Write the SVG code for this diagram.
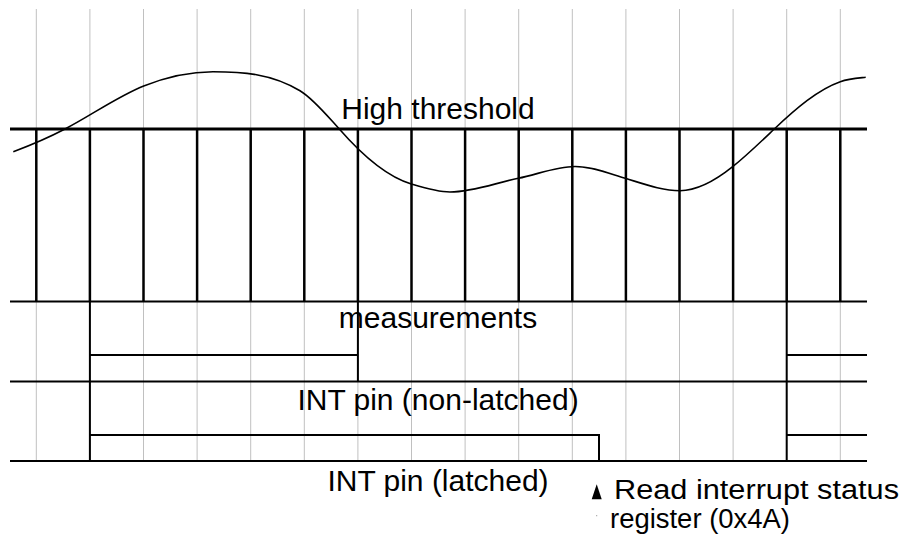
<svg xmlns="http://www.w3.org/2000/svg" width="902" height="536" viewBox="0 0 902 536">
  <style>
    .grid { stroke: #c0c0c0; stroke-width: 1; fill: none; }
    .tick { stroke: #000; stroke-width: 2.5; fill: none; }
    .thr { stroke: #000; stroke-width: 3; fill: none; }
    .rule { stroke: #000; stroke-width: 2; fill: none; }
    .wave { stroke: #000; stroke-width: 2; fill: none; }
    .sig { stroke: #000; stroke-width: 1.6; fill: none; }
    .lbl { font-family: "Liberation Sans", Arial, sans-serif; font-size: 30px; fill: #000; }
    .note { font-family: "Liberation Sans", Arial, sans-serif; font-size: 27px; fill: #000; }
    .mid { text-anchor: middle; }
  </style>
  <rect x="0" y="0" width="902" height="536" fill="#fff"/>

  <g id="grid">
    <path class="grid" d="M36.3 9V461 M89.9 9V461 M143.5 9V461 M197.1 9V461 M250.7 9V461 M304.3 9V461 M357.9 9V461 M411.5 9V461 M465.1 9V461 M518.7 9V461 M572.3 9V461 M625.9 9V461 M679.5 9V461 M733.1 9V461 M786.7 9V461 M840.3 9V461"/>
  </g>

  <g id="samples">
    <path class="tick" d="M36.3 129V301 M89.9 129V301 M143.5 129V301 M197.1 129V301 M250.7 129V301 M304.3 129V301 M357.9 129V301 M411.5 129V301 M465.1 129V301 M518.7 129V301 M572.3 129V301 M625.9 129V301 M679.5 129V301 M733.1 129V301 M786.7 129V301 M840.3 129V301"/>
  </g>

  <g id="threshold">
    <path class="thr" d="M10 129H867"/>
  </g>

  <g id="rows">
    <path class="rule" d="M10 301.5H867 M10 381.5H867 M10 461H867"/>
  </g>

  <g id="connectors">
    <path id="measurements-wave" class="wave" d="M89.9 301.5V381.5 M89.9 355H357.9 M357.9 301.5V381.5 M786.7 301.5V461 M786.7 355H867"/>
    <path id="int-latched-wave" class="wave" d="M89.9 381.5V461 M89.9 435H599 V461 M786.7 435H867"/>
  </g>

  <g id="signal">
    <path class="sig" d="M13.3 151.7 C30.5 145.3 47.8 138 65 129 C91.2 115.4 117.5 96.5 143.7 86 C166.8 76.8 189.9 71.7 213 71.7 C242 71.7 271 73.3 300 90.7 C313.1 98.6 326.2 114.6 339.3 129 C363.3 156.5 387.3 176.8 411.3 184 C424.2 187.9 437.1 192 450 192 C472.8 192 495.5 182.9 518.3 178.3 C537.2 174.5 556.1 166.5 575 166.5 C591.8 166.5 608.5 173.3 625.3 178.3 C643.5 183.8 661.8 190.7 680 190.7 C697.6 190.7 715.1 180.8 732.7 166.7 C746.6 155.6 760.4 142.2 774.3 129 C796.3 108.1 818.3 89.4 840.3 81.7 C848.8 78.7 857.2 78.2 865.7 77.3"/>
  </g>

  <g id="labels">
    <text class="lbl mid" x="438" y="119.3">High threshold</text>
    <text class="lbl mid" x="438" y="328">measurements</text>
    <text class="lbl mid" x="438" y="409.7">INT pin (non-latched)</text>
    <text class="lbl mid" x="438" y="491.3">INT pin (latched)</text>
  </g>

  <g id="read-marker">
    <polygon points="596.7,484.3 591.7,499.3 601.7,499.3" fill="#000"/>
    <rect x="596.2" y="515.2" width="1" height="1" fill="#888"/>
    <text class="note" x="614" y="498.5" textLength="285" lengthAdjust="spacingAndGlyphs">Read interrupt status</text>
    <text class="note" x="610" y="528" textLength="180" lengthAdjust="spacingAndGlyphs">register (0x4A)</text>
  </g>
</svg>
